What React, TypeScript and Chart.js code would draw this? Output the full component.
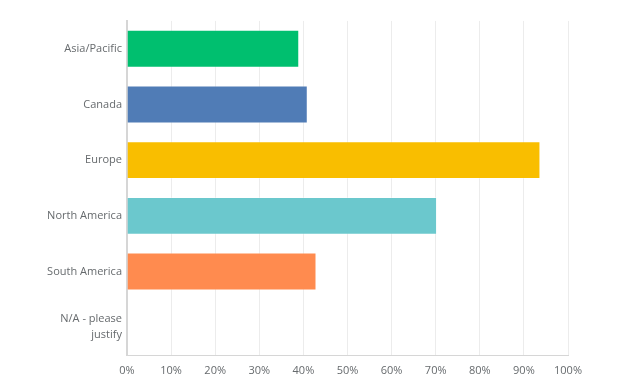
import React, { useEffect, useRef } from "react";
import { Chart, registerables } from "chart.js";

Chart.register(...registerables);

const categories: (string | string[])[] = [
  "Asia/Pacific",
  "Canada",
  "Europe",
  "North America",
  "South America",
  ["N/A - please", "justify"],
];
const values = [39.06, 40.99, 93.75, 70.31, 42.97, 0];
const barColors = ["#00BF6F", "#507CB6", "#F9BE00", "#6BC8CD", "#FF8B4F", "#AAAAAA"];
const xTicks = [0, 10, 20, 30, 40, 50, 60, 70, 80, 90, 100];

export default function App() {
  const ref = useRef<HTMLCanvasElement | null>(null);
  useEffect(() => {
    if (!ref.current) return;
    const chart = new Chart(ref.current, {
      type: "bar",
      data: {
        labels: categories,
        datasets: [
          {
            data: values,
            backgroundColor: barColors,
            borderColor: "rgba(255,255,255,0.35)",
            borderWidth: 1,
            barPercentage: 0.68,
            categoryPercentage: 1,
          },
        ],
      },
      options: {
        indexAxis: "y",
        animation: false,
        responsive: false,
        maintainAspectRatio: false,
        layout: { padding: { left: 0, right: 65, top: 19, bottom: 0 } },
        plugins: { legend: { display: false }, tooltip: { enabled: false } },
        scales: {
          x: {
            min: 0,
            max: 100,
            afterBuildTicks: (scale: any) => {
              scale.ticks = xTicks.map((v) => ({ value: v }));
            },
            afterFit: (scale: any) => {
              scale.height = 36;
            },
            ticks: {
              callback: (v: any) => v + "%",
              color: "#666a6d",
              font: { family: "Open Sans", size: 11 },
              padding: 9,
              maxRotation: 0,
              autoSkip: false,
            },
            grid: { color: "#ececec", lineWidth: 1, drawTicks: false },
            border: { color: "#d6d6d6", width: 1 },
          },
          y: {
            afterFit: (scale: any) => {
              scale.width = 127;
            },
            ticks: {
              color: "#666a6d",
              font: { family: "Open Sans", size: 11, lineHeight: 1.45 },
              padding: 5,
              autoSkip: false,
            },
            grid: { display: false, drawTicks: false },
            border: { color: "#d6d6d6", width: 2 },
          },
        },
      },
    });
    return () => chart.destroy();
  }, []);
  return (
    <div style={{ position: "fixed", left: 0, top: 0, width: 633, height: 391, background: "#fff" }}>
      <canvas ref={ref} width={633} height={391} style={{ width: 633, height: 391 }} />
    </div>
  );
}
